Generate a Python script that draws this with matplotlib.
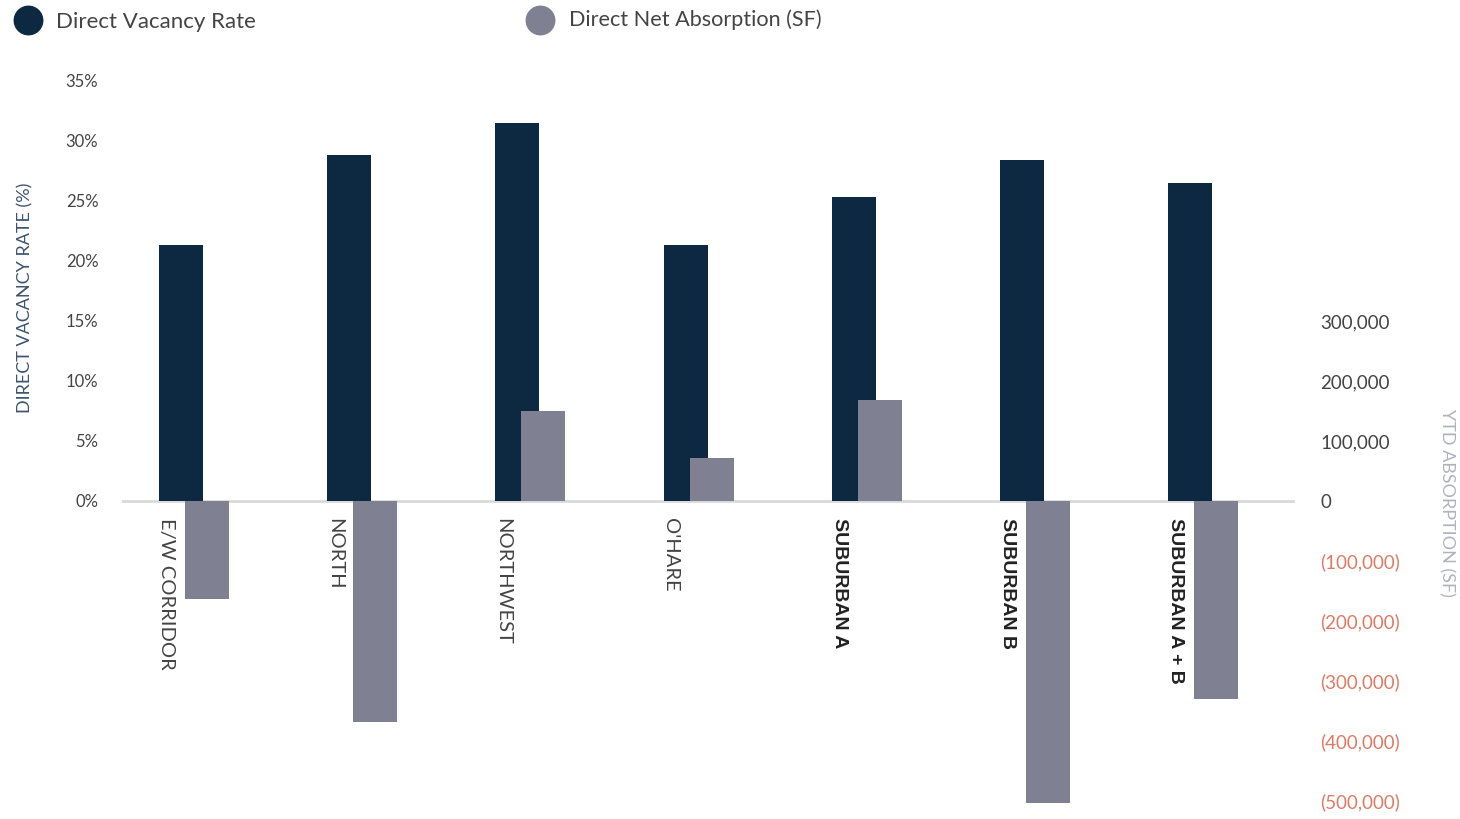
import numpy as np
import matplotlib.pyplot as plt
from matplotlib.ticker import FixedLocator

plt.rcParams['font.family'] = ['Lato', 'DejaVu Sans']

# data
submarkets = ['E/W CORRIDOR', 'NORTH', 'NORTHWEST', "O'HARE",
              'SUBURBAN A', 'SUBURBAN B', 'SUBURBAN A + B']
bold_labels = [False, False, False, False, True, True, True]
vacancy_rate = [21.3, 28.8, 31.5, 21.3, 25.3, 28.4, 26.5]
net_absorption = [-163000, -368000, 150000, 72000, 168000, -503000, -330000]
left_ticks = [0, 5, 10, 15, 20, 25, 30, 35]
right_ticks = [300000, 200000, 100000, 0, -100000, -200000, -300000, -400000, -500000]

navy = '#0d2841'
gray = '#7f8193'
salmon = '#e07a64'

fig = plt.figure(figsize=(14.6, 8.19), dpi=100)
ax = fig.add_axes([122/1460, 1-810/819, (1295-122)/1460, (810-80)/819])
ax2 = ax.twinx()

x = np.arange(len(submarkets))
w = 0.2616
off = 0.0773

ax.bar(x - off, vacancy_rate, width=w, color=navy, zorder=2)
ax2.bar(x + off, net_absorption, width=w, color=gray, zorder=2)

ax.set_xlim(-0.428, 6.546)
ax.set_ylim(-25.75, 35.08)
ax2.set_ylim(-515000, 701667)

ax.axhline(0, color='#d9d9d9', lw=2, zorder=1)

# left axis
ax.yaxis.set_major_locator(FixedLocator(left_ticks))
ax.set_yticklabels([f'{v}%' for v in left_ticks])
ax.tick_params(axis='y', length=0, pad=17, labelsize=12, labelcolor='#444444')
ax.set_xticks([])

# right axis
ax2.yaxis.set_major_locator(FixedLocator(right_ticks))
lbls = []
for v in right_ticks:
    if v < 0:
        lbls.append(f'({-v:,})')
    elif v == 0:
        lbls.append('0')
    else:
        lbls.append(f'{v:,}')
ax2.set_yticklabels(lbls)
ax2.tick_params(axis='y', length=0, pad=18, labelsize=13.5, labelcolor='#444444')
for t, v in zip(ax2.get_yticklabels(), right_ticks):
    if v < 0:
        t.set_color(salmon)

for a in (ax, ax2):
    for s in a.spines.values():
        s.set_visible(False)

# category labels below the zero line
for i, name in enumerate(submarkets):
    if bold_labels[i]:
        ax.text(i - 0.165, -1.4, name, rotation=-90, ha='center', va='top',
                fontsize=14, fontweight='bold',
                family=['Liberation Sans', 'DejaVu Sans'], color='#222222')
    else:
        ax.text(i - 0.165, -1.4, name, rotation=-90, ha='center', va='top',
                fontsize=14.5, color='#444444')

# axis titles
fig.text(25/1460, 1-298/819, 'DIRECT VACANCY RATE (%)', rotation=90,
         ha='center', va='center', fontsize=13, color='#3d5470')
fig.text(1447/1460, 1-503/819, 'YTD ABSORPTION (SF)', rotation=-90,
         ha='center', va='center', fontsize=13, color='#b0b3bb')

# legend
leg_ax = fig.add_axes([0, 0, 1, 1], facecolor='none')
leg_ax.set_xlim(0, 1460)
leg_ax.set_ylim(819, 0)
leg_ax.axis('off')
leg_ax.scatter([28], [20], s=420, color=navy)
leg_ax.scatter([540], [20], s=420, color=gray)
leg_ax.text(56, 22, 'Direct Vacancy Rate', fontsize=16, va='center', color='#444444')
leg_ax.text(569, 20, 'Direct Net Absorption (SF)', fontsize=15.6, va='center', color='#444444')

fig.savefig('out.png', dpi=100)
